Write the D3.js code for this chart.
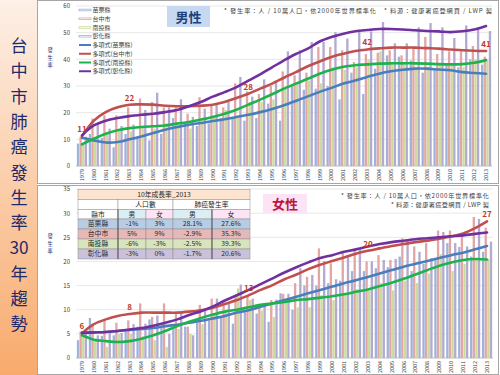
<!DOCTYPE html>
<html><head><meta charset="utf-8">
<script src="https://cdn.jsdelivr.net/npm/d3@7"></script>
<style>
body{margin:0;background:#fff}
svg{display:block}
text{font-family:"Noto Sans CJK TC","Noto Sans",sans-serif}
</style>
</head><body>
<svg id="c" width="500" height="375"></svg>
<script>
const years = ["1979","1980","1981","1982","1983","1984","1985","1986","1987","1988","1989","1990","1991","1992","1993","1994","1995","1996","1997","1998","1999","2000","2001","2002","2003","2004","2005","2006","2007","2008","2009","2010","2011","2012","2013"];
const counties = ["苗栗縣","台中市","南投縣","彰化縣"];
const trendNames = ["多項式(苗栗縣)","多項式(台中市)","多項式(南投縣)","多項式(彰化縣)"];

// Male incidence (per 100k)
const maleMiaoli   = [8.4,12,10.5,7,12,11,9.6,12,18,16,15,16,18,18,17,18,23.4,17,30,28.6,29,30,25,35,27,36.5,41.5,41,39.6,35,36,38,37,40,38];
const maleTaichung = [11,17.8,19,19,22,25.3,24,22,22,19.6,25.8,23,22,31,28,27,30,35.5,34,35,44.6,44.6,43.4,39,42,42.5,43.4,41.5,44,48.4,42,43,43,45,41];
const maleNantou   = [8,11,12,13,13,15,14,16,15,14,17,18,21,18,24,24,25,29,31,32,31,37,36,37,40,43,38,38,37,37,38,38,37,40,39.6];
const maleChanghua = [11,16,14,15,15.5,21,27.5,22,25,18.4,21.5,23,24,33.4,26,32.5,32,43,43.4,46.5,46.5,50.2,47.8,50.5,50.5,54,46,46,52,53.6,52,48,52.7,52,50.6];
// Male polynomial trend lines
const maleTrendMiaoli   = [10.6,9.6,8.8,9,10,11.1,12.4,13.6,14.6,15.5,16.1,16.9,17.5,18.4,19.2,20.2,21.4,22.8,24.4,26.1,27.8,29.3,30.9,32.1,33.4,34.6,35.5,36.1,36.5,36.5,36.2,35.9,35.2,34.9,34.6];
const maleTrendTaichung = [11.1,17,20.2,22,23,23.1,23,22.6,22.4,22.4,22.6,23,24,25.5,27.1,29,30.9,33.1,35.2,37.4,39.2,40.9,42.1,43.1,43.7,44.1,44.4,44.4,44.4,44.2,44,43.7,43.4,43.2,43.1];
const maleTrendNantou   = [8.1,10.2,12.1,13.4,14.2,14.6,14.9,15.2,15.9,16.5,17.4,18.4,19.6,21.1,23,24.9,26.9,29,30.9,32.7,34.6,36.1,37.2,37.8,38.1,38.4,38.5,38.5,38.5,38.4,38.2,38.1,38.2,38.7,39.7];
const maleTrendChanghua = [11.5,15.2,17,18,18.7,19.2,19.6,20.2,21,22.4,24,26,27.7,29.6,32,34.4,37,39.6,42,44,46.7,48.4,49.6,50.5,51,51.4,51.4,51.2,50.9,50.6,50.5,50.2,50.5,51.2,52.5];

// Female incidence (per 100k)
const femMiaoli   = [3.7,8.3,4.6,4.7,5.5,6.5,8,6.5,6.5,6.5,7.5,7.8,8.5,7.1,9.5,9.2,7.5,13.4,10,15,15,15.5,16,18,18,18.6,18.8,21,18,19.5,20.5,23.8,23,21,22];
const femTaichung = [5.5,7,7.8,7.3,7.8,11.3,8.5,11.3,9.2,6.5,11,12.3,11.5,13,12.9,10.6,12,13.3,15.5,16.8,22.7,19.6,21.8,22.2,20,21.3,20.3,24.8,23.1,23.8,26.4,26.4,25.5,29.2,27];
const femNantou   = [5,3.5,2.3,5,5,4.5,3.7,2.3,6,5,7,9,10,14.4,12,9.8,8.5,11.5,10.5,10.5,13,12,13.5,14.3,14,15.5,14,16,15.5,17.5,21.5,18,19.5,20.5,20.5];
const femChanghua = [5,4.7,5.5,5.2,7,7.1,8.8,5,9.4,4.7,9.9,12.3,11.4,15.2,12.3,11,12.1,13.3,18.6,17.2,20.1,16.3,21,22.8,20,20.3,20.5,24.5,22,20.7,26.1,23.8,23.1,28.8,24.1];
// Female polynomial trend lines
const femTrendMiaoli   = [5.2,5.3,5.4,5.6,5.8,6,6.2,6.6,6.9,7.3,7.7,8.2,8.7,9.4,9.9,10.6,11.3,12,12.7,13.4,14.1,14.8,15.5,16.1,16.8,17.5,18.2,18.9,19.5,20.1,20.7,21.3,21.8,22.5,23.2];
const femTrendTaichung = [5.1,7,8,8.7,9.1,9.4,9.4,9.4,9.4,9.6,9.9,10.4,11.2,12,13,14.1,15.1,16.3,17.3,18.4,19.3,20.1,20.8,21.6,22.2,22.7,23.2,23.6,24,24.3,24.7,25.2,25.8,26.9,28.3];
const femTrendNantou   = [4.7,3.8,3.5,3.3,3.5,4,4.7,5.6,6.6,7.5,8.3,9,9.6,10,10.5,11,11.3,11.6,12,12.2,12.5,12.8,13.2,13.7,14.2,14.9,15.6,16.4,17.3,18.2,19.1,19.8,20.3,20.5,20.4];
const femTrendChanghua = [5.2,5.3,5.4,5.6,5.9,6.2,6.7,7.3,8,8.9,9.7,10.7,11.9,13,14.1,15.3,16.5,17.7,18.8,19.8,20.7,21.3,22,22.5,23.1,23.6,24,24.3,24.6,24.8,25,25.2,25.4,25.7,26];

const maleTicks = [0,10,20,30,40,50,60];
const femaleTicks = [0,5,10,15,20,25,30,35];
const labelYears = ["1979","1983","1993","2003","2013"];
const maleLabels = [11,22,28,42,41];
const femaleLabels = [6,8,13,20,27];

const tableTitle = "10年成長率_2013";
const tableGroups = ["人口數","肺癌發生率"];
const tableHeader = ["縣市","男","女","男","女"];
const popMale = ["-1%","5%","-6%","-3%"];
const popFemale = ["3%","9%","-3%","0%"];
const lungMale = ["28.1%","-2.9%","-2.5%","-1.7%"];
const lungFemale = ["27.6%","35.3%","39.3%","20.6%"];

const titleChars = ["台","中","市","肺","癌","發","生","率","30","年","趨","勢"];
const noteRate = "* 發生率：人 / 10萬人口，依2000年世界標準化";
const noteSource = "* 料源：健康署癌登網頁 / LWP 製";

const barColors = ["#9fb3da","#e2a6a4","#cbdb98","#b4a9d0"];
const lineColors = ["#4a7ebb","#c0504d","#1db34c","#7030a0"];
const rowColors = ["#b8cce4","#e6b9b8","#d7e4bd","#ccc1da"];

const svg = d3.select("#c");
const defs = svg.append("defs");
const grad = defs.append("linearGradient").attr("id","lg").attr("x1",0).attr("y1",0).attr("x2",0).attr("y2",1);
grad.append("stop").attr("offset","0%").attr("stop-color","#fdf0e6");
grad.append("stop").attr("offset","100%").attr("stop-color","#f8aa6c");

svg.append("rect").attr("x",0).attr("y",0).attr("width",37).attr("height",375).attr("fill","url(#lg)");
const title = svg.append("text").attr("text-anchor","middle").attr("font-size",17.2).attr("fill","#1f2a6b");
title.selectAll("tspan").data(titleChars).join("tspan")
  .attr("x",19).attr("y",(d,i)=>52+i*25.3).text(d=>d);

// panel frames
svg.append("rect").attr("x",37.5).attr("y",0.5).attr("width",461).attr("height",183).attr("fill","#fff").attr("stroke","#a6a6a6");
svg.append("rect").attr("x",37.5).attr("y",185.5).attr("width",461).attr("height",189).attr("fill","#fff").attr("stroke","#a6a6a6");

function drawChart(o){
  const g = svg.append("g");
  const x = d3.scaleBand().domain(years).range([o.x0,o.x1]).paddingInner(0.12).paddingOuter(0.06);
  const xi = d3.scaleBand().domain(counties).range([0,x.bandwidth()]);
  const y = d3.scaleLinear().domain([0,o.max]).range([o.yb,o.yt]);
  const cx = d => x(d)+x.bandwidth()/2;

  g.append("g").selectAll("line").data(o.ticks).join("line")
    .attr("x1",o.x0).attr("x2",o.x1).attr("y1",d=>y(d)).attr("y2",d=>y(d))
    .attr("stroke",d=>d===0?"#a0a0a0":"#dedede").attr("stroke-width",0.7);

  const ay = g.append("g").attr("transform",`translate(${o.x0-3},0)`)
    .call(d3.axisLeft(y).tickValues(o.ticks).tickSize(0).tickPadding(3));
  ay.select(".domain").remove();
  ay.selectAll("text").attr("font-size",6).attr("fill","#404040").attr("font-family","Liberation Sans, Arial, sans-serif");

  const ax = g.append("g").attr("transform",`translate(0,${o.yb})`)
    .call(d3.axisBottom(x).tickSize(0));
  ax.select(".domain").remove();
  ax.selectAll("text").attr("transform","rotate(-90)").attr("x",-3).attr("y",0).attr("dy","0.35em")
    .attr("text-anchor","end").attr("font-size",5.4).attr("fill","#404040").attr("font-family","Liberation Sans, Arial, sans-serif");

  o.series.forEach((s,si)=>{
    g.append("g").selectAll("rect").data(s).join("rect")
      .attr("x",(d,i)=>x(years[i])+xi(counties[si])+0.15)
      .attr("width",xi.bandwidth()-0.3)
      .attr("y",d=>y(d)).attr("height",d=>o.yb-y(d))
      .attr("fill",barColors[si]);
  });

  const line = d3.line().x((d,i)=>cx(years[i])).y(d=>y(d)).curve(d3.curveCatmullRom.alpha(0.5));
  o.trends.forEach((t,ti)=>{
    g.append("path").datum(t).attr("d",line).attr("fill","none")
      .attr("stroke",lineColors[ti]).attr("stroke-width",2.6).attr("stroke-linecap","round");
  });

  g.append("g").selectAll("text").data(o.labels).join("text")
    .attr("x",(d,i)=>cx(labelYears[i]))
    .attr("y",(d,i)=>y(o.trends[1][years.indexOf(labelYears[i])])-4)
    .attr("text-anchor","middle").attr("font-size",8).attr("font-weight","bold")
    .attr("fill","#c0392b").attr("font-family","Liberation Sans, Arial, sans-serif")
    .text(d=>d);

  const yl = g.append("text").attr("text-anchor","middle").attr("font-size",5.2).attr("fill","#1f2a6b");
  yl.selectAll("tspan").data(["發","生","率"]).join("tspan")
    .attr("x",50).attr("y",(d,i)=>o.labY+i*7.6).text(d=>d);
  return {x,y};
}

drawChart({x0:76,x1:492,yb:166,yt:6,max:60,ticks:maleTicks,
  series:[maleMiaoli,maleTaichung,maleNantou,maleChanghua],
  trends:[maleTrendMiaoli,maleTrendTaichung,maleTrendNantou,maleTrendChanghua],
  labels:maleLabels,labY:52});

drawChart({x0:76,x1:493,yb:358,yt:189,max:35,ticks:femaleTicks,
  series:[femMiaoli,femTaichung,femNantou,femChanghua],
  trends:[femTrendMiaoli,femTrendTaichung,femTrendNantou,femTrendChanghua],
  labels:femaleLabels,labY:238});

// Legend (top chart)
const leg = svg.append("g");
const legItems = counties.map((c,i)=>({t:c,type:"bar",i})).concat(trendNames.map((c,i)=>({t:c,type:"line",i})));
legItems.forEach((d,k)=>{
  const yy = 10 + k*8.75;
  if(d.type==="bar"){
    leg.append("rect").attr("x",79).attr("y",yy-0.8).attr("width",12).attr("height",1.6)
      .attr("fill","#fff").attr("stroke",barColors[d.i]).attr("stroke-width",0.8);
  } else {
    leg.append("line").attr("x1",79).attr("x2",91).attr("y1",yy).attr("y2",yy)
      .attr("stroke",lineColors[d.i]).attr("stroke-width",2);
  }
  leg.append("text").attr("x",92.5).attr("y",yy+2.2).attr("font-size",6).attr("fill","#404040").text(d.t);
});

// 男性 box
svg.append("rect").attr("x",167).attr("y",6).attr("width",43).attr("height",21).attr("fill","#c6d9f1");
svg.append("text").attr("x",188.5).attr("y",21.5).attr("text-anchor","middle").attr("font-size",13).attr("font-weight","bold").attr("fill","#1f3f7a").text("男性");
svg.append("text").attr("x",492).attr("y",13).attr("text-anchor","end").attr("font-size",6.2)
  .attr("textLength",268).attr("lengthAdjust","spacing").attr("fill","#404040").text(noteRate+"　"+noteSource);

// 女性 box
svg.append("rect").attr("x",263).attr("y",194).attr("width",44).attr("height",19).attr("fill","#fde3f6");
svg.append("text").attr("x",285).attr("y",208.5).attr("text-anchor","middle").attr("font-size",13).attr("font-weight","bold").attr("fill","#c0143c").text("女性");
svg.append("text").attr("x",489).attr("y",197.5).attr("text-anchor","end").attr("font-size",6.2)
  .attr("textLength",148).attr("lengthAdjust","spacing").attr("fill","#404040").text(noteRate);
svg.append("text").attr("x",489).attr("y",206.5).attr("text-anchor","end").attr("font-size",6.2)
  .attr("textLength",98).attr("lengthAdjust","spacing").attr("fill","#404040").text(noteSource);

// Table
const tb = svg.append("g");
const colX = [78,118,146,173,212,250];
const rowY = [189.5,199.5,209.5,219,229,239,249,259];
function cell(c0,c1,r,fill,txt,color){
  tb.append("rect").attr("x",colX[c0]).attr("y",rowY[r]).attr("width",colX[c1]-colX[c0]).attr("height",rowY[r+1]-rowY[r])
    .attr("fill",fill).attr("stroke","#8c8c8c").attr("stroke-width",0.5);
  tb.append("text").attr("x",(colX[c0]+colX[c1])/2).attr("y",(rowY[r]+rowY[r+1])/2+2.4)
    .attr("text-anchor","middle").attr("font-size",6.8).attr("fill",color||"#262626").text(txt);
}
cell(0,5,0,"#fce4d0",tableTitle);
cell(0,1,1,"#ffffff","");
cell(1,3,1,"#ffffff",tableGroups[0]);
cell(3,5,1,"#ffffff",tableGroups[1]);
const hdrFill = ["#ffffff","#dbeef4","#fde4f4","#dbeef4","#fde4f4"];
tableHeader.forEach((h,i)=>cell(i,i+1,2,hdrFill[i],h));
counties.forEach((c,r)=>{
  const vals = [c,popMale[r],popFemale[r],lungMale[r],lungFemale[r]];
  vals.forEach((v,i)=>cell(i,i+1,3+r,rowColors[r],v));
});
tb.append("line").attr("x1",colX[1]).attr("x2",colX[1]).attr("y1",rowY[2]).attr("y2",rowY[7]).attr("stroke","#404040").attr("stroke-width",0.8);
tb.append("line").attr("x1",colX[4]).attr("x2",colX[4]).attr("y1",rowY[2]).attr("y2",rowY[7]).attr("stroke","#404040").attr("stroke-width",0.8);
</script>
</body></html>
